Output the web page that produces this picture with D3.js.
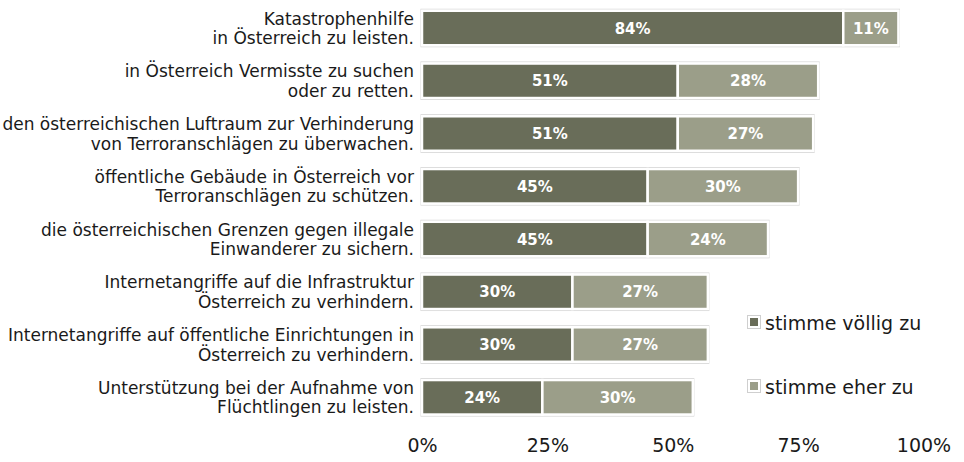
<!DOCTYPE html>
<html>
<head>
<meta charset="utf-8">
<script src="https://cdn.jsdelivr.net/npm/d3@7/dist/d3.min.js"></script>
<style>
  html, body { margin: 0; padding: 0; background: #fff; }
  svg { display: block; font-family: "DejaVu Sans", sans-serif; }
</style>
</head>
<body>
<svg id="chart" width="964" height="462"></svg>
<script>
// each category is two text lines, as in the original
const categories = [
	['Katastrophenhilfe', 'in Österreich zu leisten.'],
	['in Österreich Vermisste zu suchen', 'oder zu retten.'],
	['den österreichischen Luftraum zur Verhinderung', 'von Terroranschlägen zu überwachen.'],
	['öffentliche Gebäude in Österreich vor', 'Terroranschlägen zu schützen.'],
	['die österreichischen Grenzen gegen illegale', 'Einwanderer zu sichern.'],
	['Internetangriffe auf die Infrastruktur', 'Österreich zu verhindern.'],
	['Internetangriffe auf öffentliche Einrichtungen in', 'Österreich zu verhindern.'],
	['Unterstützung bei der Aufnahme von', 'Flüchtlingen zu leisten.']
]
const voellig = [84, 51, 51, 45, 45, 30, 30, 24]
const eher = [11, 28, 27, 30, 24, 27, 27, 30]
const seriesNames = ['stimme völlig zu', 'stimme eher zu']
const ticks = [0, 25, 50, 75, 100]

const colors = ['#696d59', '#9b9e89']

const svg = d3.select('#chart')

const x = d3.scaleLinear().domain([0, 100]).range([422, 923.5])
const y = d3.scaleBand()
	.domain(d3.range(categories.length))
	.range([0, 425.3])
	.paddingInner(0.346)
	.paddingOuter(0.204)

const rows = categories.map((c, i) => ({
	i,
	lines: c,
	segs: [
		{ k: 0, x0: 0, x1: voellig[i], v: voellig[i] },
		{ k: 1, x0: voellig[i], x1: voellig[i] + eher[i], v: eher[i] }
	]
}))

// ------- BARS ------- //

const row = svg.append('g').selectAll('g.row')
	.data(rows)
	.join('g')
	.attr('class', 'row')
	.attr('transform', d => `translate(0,${y(d.i)})`)

// thin grey frame round every bar
row.append('rect')
	.attr('x', x(0) - 1)
	.attr('y', -1.5)
	.attr('width', d => x(d.segs[1].x1) - x(0) + 2)
	.attr('height', y.bandwidth() + 3)
	.attr('fill', '#fff')
	.attr('stroke', '#d3d3d3')
	.attr('stroke-width', 1)

row.selectAll('rect.seg')
	.data(d => d.segs)
	.join('rect')
	.attr('class', 'seg')
	.attr('x', s => x(s.x0))
	.attr('y', 0)
	.attr('width', s => x(s.x1) - x(s.x0))
	.attr('height', y.bandwidth())
	.attr('fill', s => colors[s.k])
	.attr('stroke', '#fff')
	.attr('stroke-width', 2.5)

row.selectAll('text.val')
	.data(d => d.segs)
	.join('text')
	.attr('class', 'val')
	.attr('x', s => (x(s.x0) + x(s.x1)) / 2)
	.attr('y', y.bandwidth() / 2 + 5.5)
	.attr('text-anchor', 'middle')
	.attr('fill', '#fff')
	.attr('font-weight', 'bold')
	.attr('font-size', 15)
	.text(s => s.v + '%')

// ------- CATEGORY LABELS ------- //

const lab = row.append('text')
	.attr('text-anchor', 'end')
	.attr('font-size', 17)
	.attr('fill', '#1a1a1a')

lab.selectAll('tspan')
	.data(d => d.lines)
	.join('tspan')
	.attr('x', 414)
	.attr('y', (t, j) => y.bandwidth() / 2 + (j === 0 ? -3.5 : 16))
	.text(t => t)

// ------- AXIS ------- //

const axis = svg.append('g')
	.attr('transform', 'translate(0,452)')
	.call(d3.axisBottom(x).tickValues(ticks).tickFormat(v => v + '%').tickSize(0).tickPadding(0))

axis.select('.domain').remove()
axis.selectAll('text')
	.attr('dy', 0)
	.attr('y', 0)
	.attr('font-size', 19)
	.attr('font-family', '"DejaVu Sans", sans-serif')
	.attr('fill', '#1a1a1a')

// ------- LEGEND ------- //

const legend = svg.append('g').selectAll('g')
	.data(seriesNames)
	.join('g')
	.attr('transform', (d, i) => `translate(748,${330 + i * 64})`)

legend.append('rect')
	.attr('x', -0.5)
	.attr('y', -14.5)
	.attr('width', 13)
	.attr('height', 13)
	.attr('fill', '#fff')
	.attr('stroke', '#cfcfcf')

legend.append('rect')
	.attr('x', 2)
	.attr('y', -12)
	.attr('width', 8)
	.attr('height', 8)
	.attr('fill', (d, i) => colors[i])

legend.append('text')
	.attr('x', 17)
	.attr('y', 0)
	.attr('font-size', 19)
	.attr('fill', '#1a1a1a')
	.text(d => d)
</script>
</body>
</html>
